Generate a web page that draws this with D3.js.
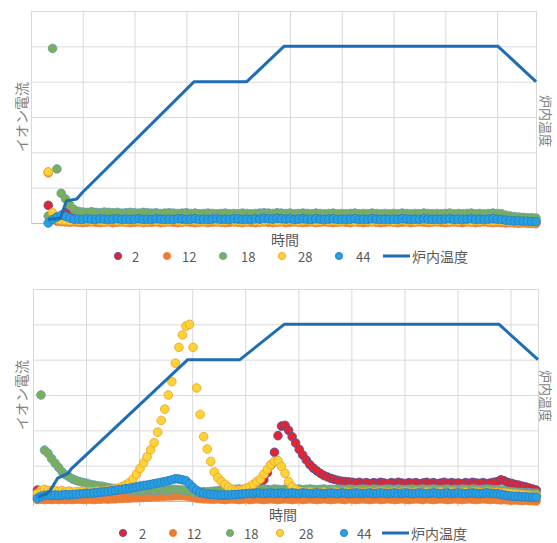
<!DOCTYPE html>
<html>
<head>
<meta charset="utf-8">
<script src="https://cdn.jsdelivr.net/npm/d3@7"></script>
<style>
    html, body { margin: 0; padding: 0; background: #fff; }
    svg { display: block; font-family: 'Noto Sans CJK JP', 'Noto Sans', sans-serif; }
</style>
</head>
<body>
<svg id="chart" width="557" height="543"></svg>
<script>
const seriesNames = ['2', '12', '18', '28', '44']
const temperatureName = '炉内温度'
const xTitle = '時間'
const yTitle = 'イオン電流'

// upper run: one sample every 5 min from minute 20
const topSampleStart = 20
const topSampleStep = 5
const topTimeMax = 585
const topTempTimes = [20, 34, 41, 53, 59, 189, 250, 293, 541, 585]
const topTempValues = [20, 28, 125, 136, 170, 800, 800, 1000, 1000, 800]

const topIon2 = [
    0.50, 0.14, 0.12, 0.20, 0.30, 0.24, 0.17, 0.12, 0.08, 0.07,
    0.08, 0.07, 0.06, 0.07, 0.08, 0.07, 0.06, 0.07, 0.08, 0.07,
    0.07, 0.08, 0.06, 0.07, 0.07, 0.08, 0.07, 0.06, 0.07, 0.08,
    0.07, 0.06, 0.07, 0.08, 0.07, 0.07, 0.06, 0.07, 0.08, 0.07,
    0.08, 0.07, 0.06, 0.07, 0.08, 0.07, 0.07, 0.06, 0.07, 0.08,
    0.07, 0.08, 0.07, 0.06, 0.07, 0.08, 0.07, 0.06, 0.07, 0.07,
    0.08, 0.07, 0.06, 0.07, 0.07, 0.08, 0.07, 0.06, 0.07, 0.08,
    0.07, 0.06, 0.07, 0.08, 0.07, 0.06, 0.07, 0.07, 0.08, 0.07,
    0.06, 0.07, 0.08, 0.07, 0.07, 0.06, 0.07, 0.08, 0.07, 0.06,
    0.07, 0.08, 0.07, 0.06, 0.07, 0.07, 0.08, 0.07, 0.06, 0.07,
    0.08, 0.07, 0.07, 0.06, 0.07, 0.07, 0.06, 0.05, 0.05, 0.05,
    0.04, 0.04, 0.04, 0.03,
]
const topIon12 = [
    1.42, 0.10, 0.05, 0.04, 0.03, 0.02, 0.03, 0.02, 0.01, 0.02,
    0.03, 0.02, 0.01, 0.02, 0.03, 0.01, 0.02, 0.03, 0.02, 0.01,
    0.02, 0.03, 0.01, 0.02, 0.02, 0.03, 0.01, 0.02, 0.03, 0.02,
    0.01, 0.02, 0.03, 0.02, 0.01, 0.02, 0.03, 0.01, 0.02, 0.03,
    0.02, 0.01, 0.02, 0.03, 0.02, 0.01, 0.03, 0.02, 0.01, 0.02,
    0.03, 0.02, 0.01, 0.02, 0.03, 0.01, 0.02, 0.03, 0.02, 0.01,
    0.02, 0.03, 0.01, 0.02, 0.03, 0.02, 0.01, 0.02, 0.03, 0.02,
    0.01, 0.03, 0.02, 0.01, 0.02, 0.03, 0.02, 0.01, 0.02, 0.03,
    0.02, 0.01, 0.02, 0.03, 0.01, 0.02, 0.03, 0.02, 0.01, 0.02,
    0.03, 0.02, 0.01, 0.02, 0.03, 0.02, 0.01, 0.03, 0.02, 0.01,
    0.02, 0.03, 0.02, 0.01, 0.02, 0.01, 0.00, 0.01, 0.00, -0.01,
    0.00, -0.01, -0.01, -0.02,
]
const topIon18 = [
    0.20, 4.94, 1.53, 0.84, 0.68, 0.50, 0.38, 0.33, 0.31, 0.30,
    0.32, 0.30, 0.29, 0.31, 0.30, 0.29, 0.30, 0.28, 0.29, 0.30,
    0.29, 0.28, 0.30, 0.29, 0.28, 0.29, 0.27, 0.28, 0.29, 0.28,
    0.27, 0.28, 0.29, 0.27, 0.28, 0.26, 0.27, 0.28, 0.27, 0.26,
    0.27, 0.28, 0.26, 0.27, 0.26, 0.28, 0.27, 0.26, 0.27, 0.28,
    0.29, 0.28, 0.27, 0.29, 0.28, 0.27, 0.28, 0.26, 0.27, 0.28,
    0.27, 0.26, 0.28, 0.27, 0.26, 0.27, 0.28, 0.26, 0.27, 0.26,
    0.27, 0.28, 0.26, 0.27, 0.26, 0.28, 0.27, 0.26, 0.27, 0.26,
    0.27, 0.26, 0.28, 0.27, 0.26, 0.27, 0.26, 0.28, 0.27, 0.26,
    0.27, 0.26, 0.27, 0.28, 0.26, 0.27, 0.26, 0.27, 0.28, 0.26,
    0.27, 0.26, 0.27, 0.28, 0.27, 0.26, 0.22, 0.20, 0.18, 0.17,
    0.16, 0.15, 0.15, 0.14,
]
const topIon28 = [
    1.45, 0.29, 0.10, 0.08, 0.07, 0.06, 0.07, 0.06, 0.06, 0.07,
    0.06, 0.07, 0.06, 0.05, 0.06, 0.07, 0.06, 0.06, 0.05, 0.06,
    0.07, 0.06, 0.05, 0.06, 0.07, 0.06, 0.06, 0.05, 0.06, 0.07,
    0.06, 0.05, 0.06, 0.07, 0.06, 0.05, 0.06, 0.06, 0.07, 0.06,
    0.05, 0.06, 0.07, 0.06, 0.06, 0.05, 0.06, 0.07, 0.06, 0.05,
    0.06, 0.07, 0.06, 0.05, 0.06, 0.06, 0.07, 0.06, 0.05, 0.06,
    0.07, 0.06, 0.05, 0.06, 0.07, 0.06, 0.06, 0.05, 0.06, 0.07,
    0.06, 0.05, 0.06, 0.07, 0.06, 0.05, 0.06, 0.06, 0.07, 0.06,
    0.05, 0.06, 0.07, 0.06, 0.06, 0.05, 0.06, 0.07, 0.06, 0.05,
    0.06, 0.07, 0.06, 0.05, 0.06, 0.06, 0.07, 0.06, 0.05, 0.06,
    0.06, 0.07, 0.06, 0.05, 0.06, 0.05, 0.05, 0.04, 0.04, 0.03,
    0.03, 0.03, 0.02, 0.02,
]
const topIon44 = [
    0.00, 0.10, 0.17, 0.22, 0.19, 0.14, 0.11, 0.11, 0.10, 0.12,
    0.11, 0.10, 0.12, 0.11, 0.10, 0.11, 0.12, 0.10, 0.11, 0.10,
    0.11, 0.12, 0.10, 0.11, 0.10, 0.12, 0.11, 0.10, 0.11, 0.10,
    0.12, 0.11, 0.10, 0.11, 0.12, 0.10, 0.11, 0.10, 0.11, 0.12,
    0.10, 0.11, 0.10, 0.12, 0.11, 0.10, 0.11, 0.10, 0.12, 0.11,
    0.13, 0.12, 0.11, 0.13, 0.12, 0.11, 0.12, 0.10, 0.11, 0.12,
    0.11, 0.10, 0.12, 0.11, 0.10, 0.11, 0.12, 0.10, 0.11, 0.10,
    0.11, 0.12, 0.10, 0.11, 0.10, 0.12, 0.11, 0.10, 0.11, 0.10,
    0.11, 0.10, 0.12, 0.11, 0.10, 0.11, 0.10, 0.12, 0.11, 0.10,
    0.11, 0.10, 0.11, 0.12, 0.10, 0.11, 0.10, 0.11, 0.12, 0.10,
    0.11, 0.10, 0.11, 0.12, 0.11, 0.10, 0.08, 0.07, 0.06, 0.06,
    0.05, 0.05, 0.04, 0.04,
]

// lower run: one sample every 4 min from minute 5
const bottomSampleStart = 5
const bottomSampleStep = 4
const bottomTimeMax = 571
const bottomTempTimes = [6, 11, 15, 19, 28, 40, 43, 175, 234, 284, 527, 571]
const bottomTempValues = [22, 34, 39, 56, 130, 158, 180, 800, 800, 1000, 1000, 800]

const bottomIon2 = [
    0.31, 0.20, 0.19, 0.20, 0.21, 0.20, 0.19, 0.20, 0.21, 0.20,
    0.20, 0.21, 0.20, 0.19, 0.20, 0.21, 0.20, 0.21, 0.22, 0.21,
    0.22, 0.21, 0.22, 0.23, 0.22, 0.23, 0.22, 0.23, 0.24, 0.23,
    0.24, 0.23, 0.24, 0.25, 0.24, 0.25, 0.24, 0.25, 0.26, 0.25,
    0.26, 0.25, 0.26, 0.25, 0.24, 0.25, 0.24, 0.25, 0.24, 0.25,
    0.24, 0.25, 0.24, 0.25, 0.26, 0.25, 0.26, 0.28, 0.30, 0.31,
    0.33, 0.35, 0.38, 0.45, 0.60, 0.80, 1.02, 1.38, 1.85, 2.12,
    2.14, 2.00, 1.82, 1.64, 1.46, 1.30, 1.16, 1.03, 0.93, 0.85,
    0.78, 0.72, 0.68, 0.64, 0.61, 0.58, 0.56, 0.55, 0.54, 0.53,
    0.51, 0.53, 0.50, 0.52, 0.49, 0.52, 0.50, 0.53, 0.51, 0.49,
    0.52, 0.50, 0.53, 0.51, 0.49, 0.52, 0.50, 0.52, 0.49, 0.51,
    0.53, 0.50, 0.52, 0.49, 0.51, 0.53, 0.50, 0.52, 0.50, 0.51,
    0.49, 0.52, 0.50, 0.53, 0.51, 0.50, 0.52, 0.49, 0.51, 0.53,
    0.55, 0.60, 0.57, 0.52, 0.50, 0.47, 0.45, 0.42, 0.40, 0.37,
    0.34, 0.31,
]
const bottomIon12 = [
    0.04, 0.05, 0.04, 0.05, 0.04, 0.05, 0.04, 0.05, 0.04, 0.05,
    0.04, 0.05, 0.05, 0.04, 0.05, 0.05, 0.04, 0.05, 0.05, 0.06,
    0.05, 0.06, 0.06, 0.07, 0.07, 0.08, 0.08, 0.09, 0.09, 0.10,
    0.10, 0.11, 0.11, 0.12, 0.12, 0.13, 0.13, 0.14, 0.14, 0.15,
    0.15, 0.15, 0.14, 0.12, 0.10, 0.08, 0.07, 0.06, 0.06, 0.05,
    0.05, 0.06, 0.05, 0.04, 0.05, 0.06, 0.05, 0.04, 0.05, 0.06,
    0.04, 0.05, 0.06, 0.05, 0.04, 0.05, 0.06, 0.05, 0.04, 0.05,
    0.06, 0.05, 0.04, 0.05, 0.06, 0.04, 0.05, 0.06, 0.05, 0.04,
    0.05, 0.06, 0.05, 0.04, 0.05, 0.06, 0.05, 0.04, 0.06, 0.05,
    0.04, 0.05, 0.06, 0.05, 0.04, 0.05, 0.06, 0.04, 0.05, 0.06,
    0.05, 0.04, 0.05, 0.06, 0.05, 0.04, 0.05, 0.06, 0.05, 0.04,
    0.06, 0.05, 0.04, 0.05, 0.06, 0.05, 0.04, 0.05, 0.06, 0.05,
    0.04, 0.05, 0.06, 0.05, 0.04, 0.05, 0.06, 0.05, 0.04, 0.05,
    0.04, 0.03, 0.04, 0.03, 0.02, 0.03, 0.02, 0.01, 0.02, 0.01,
    0.01, 0.00,
]
const bottomIon18 = [
    0.15, 3.00, 1.44, 1.35, 1.20, 1.07, 0.95, 0.82, 0.74, 0.68,
    0.62, 0.58, 0.55, 0.52, 0.50, 0.47, 0.45, 0.43, 0.42, 0.40,
    0.38, 0.36, 0.35, 0.34, 0.33, 0.32, 0.31, 0.32, 0.30, 0.31,
    0.30, 0.32, 0.31, 0.30, 0.31, 0.32, 0.30, 0.31, 0.32, 0.33,
    0.32, 0.31, 0.30, 0.28, 0.26, 0.25, 0.24, 0.25, 0.26, 0.27,
    0.28, 0.29, 0.30, 0.31, 0.32, 0.33, 0.33, 0.34, 0.33, 0.34,
    0.33, 0.34, 0.32, 0.33, 0.34, 0.33, 0.32, 0.34, 0.33, 0.32,
    0.34, 0.33, 0.32, 0.33, 0.34, 0.32, 0.33, 0.34, 0.33, 0.32,
    0.33, 0.34, 0.32, 0.33, 0.32, 0.34, 0.33, 0.32, 0.34, 0.33,
    0.32, 0.33, 0.34, 0.33, 0.32, 0.34, 0.33, 0.32, 0.33, 0.34,
    0.33, 0.32, 0.34, 0.33, 0.32, 0.33, 0.34, 0.32, 0.33, 0.34,
    0.32, 0.33, 0.34, 0.33, 0.32, 0.33, 0.34, 0.32, 0.33, 0.32,
    0.34, 0.33, 0.32, 0.34, 0.33, 0.32, 0.33, 0.34, 0.33, 0.32,
    0.32, 0.31, 0.29, 0.27, 0.26, 0.25, 0.24, 0.24, 0.23, 0.23,
    0.22, 0.22,
]
const bottomIon28 = [
    0.22, 0.30, 0.33, 0.30, 0.28, 0.30, 0.27, 0.29, 0.26, 0.28,
    0.25, 0.27, 0.26, 0.28, 0.25, 0.27, 0.26, 0.28, 0.27, 0.29,
    0.30, 0.32, 0.34, 0.37, 0.41, 0.46, 0.52, 0.62, 0.76, 0.92,
    1.08, 1.25, 1.45, 1.65, 1.95, 2.28, 2.60, 3.00, 3.38, 3.90,
    4.35, 4.70, 4.95, 5.00, 4.35, 3.20, 2.45, 1.82, 1.47, 1.12,
    0.82, 0.66, 0.55, 0.47, 0.39, 0.33, 0.30, 0.31, 0.32, 0.36,
    0.40, 0.47, 0.55, 0.62, 0.76, 0.90, 1.03, 1.12, 1.14, 0.98,
    0.78, 0.55, 0.40, 0.32, 0.28, 0.26, 0.25, 0.26, 0.25, 0.24,
    0.25, 0.26, 0.24, 0.25, 0.26, 0.25, 0.24, 0.26, 0.25, 0.24,
    0.26, 0.25, 0.24, 0.25, 0.26, 0.24, 0.25, 0.26, 0.25, 0.24,
    0.25, 0.26, 0.24, 0.25, 0.26, 0.25, 0.24, 0.26, 0.25, 0.24,
    0.26, 0.25, 0.24, 0.25, 0.26, 0.24, 0.25, 0.26, 0.25, 0.24,
    0.25, 0.26, 0.24, 0.25, 0.26, 0.25, 0.24, 0.26, 0.25, 0.24,
    0.25, 0.24, 0.23, 0.22, 0.21, 0.20, 0.19, 0.18, 0.17, 0.16,
    0.15, 0.15,
]
const bottomIon44 = [
    0.08, 0.13, 0.16, 0.17, 0.16, 0.17, 0.16, 0.17, 0.18, 0.17,
    0.18, 0.19, 0.20, 0.21, 0.22, 0.22, 0.23, 0.24, 0.25, 0.26,
    0.27, 0.29, 0.30, 0.32, 0.33, 0.35, 0.36, 0.38, 0.40, 0.42,
    0.44, 0.45, 0.47, 0.49, 0.51, 0.53, 0.55, 0.57, 0.60, 0.63,
    0.62, 0.60, 0.57, 0.48, 0.38, 0.30, 0.25, 0.22, 0.20, 0.19,
    0.18, 0.17, 0.17, 0.17, 0.17, 0.18, 0.18, 0.19, 0.20, 0.21,
    0.22, 0.21, 0.23, 0.22, 0.21, 0.22, 0.23, 0.21, 0.22, 0.23,
    0.21, 0.22, 0.23, 0.22, 0.21, 0.23, 0.22, 0.21, 0.22, 0.23,
    0.22, 0.21, 0.22, 0.23, 0.22, 0.21, 0.23, 0.22, 0.21, 0.22,
    0.23, 0.22, 0.21, 0.22, 0.23, 0.21, 0.22, 0.23, 0.22, 0.21,
    0.22, 0.23, 0.21, 0.22, 0.23, 0.22, 0.21, 0.22, 0.23, 0.22,
    0.21, 0.22, 0.23, 0.22, 0.21, 0.22, 0.23, 0.21, 0.22, 0.23,
    0.22, 0.21, 0.22, 0.23, 0.22, 0.21, 0.22, 0.23, 0.22, 0.21,
    0.21, 0.19, 0.17, 0.15, 0.14, 0.13, 0.13, 0.12, 0.12, 0.11,
    0.11, 0.11,
]

const gridStepMinutes = 60
const ionMax = 6
const temperatureMax = 1200

const markerStyles = {
    '2': { fill: '#e6242c', stroke: '#55509c' },
    '12': { fill: '#ee7a30', stroke: '#e9823f' },
    '18': { fill: '#79b054', stroke: '#6b9db3' },
    '28': { fill: '#fbd535', stroke: '#f2a22a' },
    '44': { fill: '#26a1e3', stroke: '#2a7cc3' },
}
const lineColor = '#1e6db5'

class RunChart {

    #scales

    constructor({ svg, frame, timeMax, legendY, xTitleY, legendLayout, sideTitleY }) {
        this.svg = svg
        this.frame = frame
        this.timeMax = timeMax
        this.legendY = legendY
        this.xTitleY = xTitleY
        this.legendLayout = legendLayout
        this.sideTitleY = sideTitleY
        this.bounds = svg.append('g')
        this.#scales = {
            x: d3.scaleLinear().domain([0, timeMax]).range([frame.left, frame.right]),
            ion: d3.scaleLinear().domain([0, ionMax]).range([frame.bottom, frame.top]),
            temp: d3.scaleLinear().domain([0, temperatureMax]).range([frame.bottom, frame.top]),
        }
    }

    drawGrid(withTicks) {
        const f = this.frame
        const { x, ion } = this.#scales
        const grid = this.bounds.append('g')

        grid.append('g')
            .attr('transform', `translate(0,${f.bottom})`)
            .call(d3.axisBottom(x)
                .tickValues(d3.range(0, this.timeMax, gridStepMinutes))
                .tickSize(-(f.bottom - f.top))
                .tickFormat(''))
            .call(g => g.select('.domain').remove())
            .call(g => g.selectAll('line').attr('stroke', '#d9d9d9'))

        grid.append('g')
            .attr('transform', `translate(${f.left},0)`)
            .call(d3.axisLeft(ion)
                .tickValues(d3.range(0, ionMax + 1))
                .tickSize(-(f.right - f.left))
                .tickFormat(''))
            .call(g => g.select('.domain').remove())
            .call(g => g.selectAll('line').attr('stroke', '#d9d9d9'))

        grid.append('line')
            .attr('x1', Math.round(f.right) + 0.5)
            .attr('x2', Math.round(f.right) + 0.5)
            .attr('y1', f.top)
            .attr('y2', f.bottom)
            .attr('stroke', '#d9d9d9')

        const axis = grid.append('g')
            .attr('transform', `translate(0,${f.bottom})`)
            .call(d3.axisBottom(x)
                .tickValues(withTicks ? d3.range(0, this.timeMax, gridStepMinutes) : [])
                .tickSizeInner(5)
                .tickSizeOuter(0)
                .tickFormat(''))
        axis.select('.domain').attr('stroke', '#bfbfbf')
        axis.selectAll('line').attr('stroke', '#bfbfbf')
    }

    drawIons(seriesList, sampleStart, sampleStep) {
        const { x, ion } = this.#scales
        seriesList.forEach(series => {
            const style = markerStyles[series.name]
            const points = series.values.map((v, i) => ({ t: sampleStart + i * sampleStep, v }))
            this.bounds.append('g')
                .selectAll('circle')
                .data(points)
                .join('circle')
                .attr('cx', d => x(d.t))
                .attr('cy', d => ion(d.v))
                .attr('r', 4.3)
                .attr('fill', style.fill)
                .attr('stroke', style.stroke)
                .attr('stroke-width', 0.9)
        })
    }

    drawTemperature(times, values) {
        const { x, temp } = this.#scales
        const lineGenerator = d3.line()
            .x(d => x(d[0]))
            .y(d => temp(d[1]))
        this.bounds.append('path')
            .attr('d', lineGenerator(d3.zip(times, values)))
            .attr('fill', 'none')
            .attr('stroke', lineColor)
            .attr('stroke-width', 3)
            .attr('stroke-linejoin', 'round')
    }

    drawTitles() {
        const f = this.frame
        const mid = (f.top + f.bottom) / 2
        this.bounds.append('text')
            .attr('transform', `translate(27,${mid}) rotate(-90)`)
            .attr('text-anchor', 'middle')
            .attr('font-size', 14)
            .attr('fill', '#7f7f7f')
            .text(yTitle)
        this.bounds.append('text')
            .attr('transform', `translate(541,${this.sideTitleY}) rotate(90)`)
            .attr('text-anchor', 'middle')
            .attr('font-size', 13)
            .attr('fill', '#7f7f7f')
            .text(temperatureName)
        this.bounds.append('text')
            .attr('x', this.legendLayout.xTitle)
            .attr('y', this.xTitleY)
            .attr('text-anchor', 'middle')
            .attr('dominant-baseline', 'central')
            .attr('font-size', 14)
            .attr('fill', '#595959')
            .text(xTitle)
    }

    drawLegend() {
        const lay = this.legendLayout
        const legend = this.bounds.append('g')
        seriesNames.forEach((name, i) => {
            const style = markerStyles[name]
            legend.append('circle')
                .attr('cx', lay.markers[i])
                .attr('cy', this.legendY)
                .attr('r', 3.6)
                .attr('fill', style.fill)
                .attr('stroke', style.stroke)
                .attr('stroke-width', 0.9)
            legend.append('text')
                .attr('x', lay.labels[i])
                .attr('y', this.legendY)
                .attr('dominant-baseline', 'central')
                .attr('font-size', 13)
                .attr('fill', '#595959')
                .text(name)
        })
        legend.append('line')
            .attr('x1', lay.line[0])
            .attr('x2', lay.line[1])
            .attr('y1', this.legendY)
            .attr('y2', this.legendY)
            .attr('stroke', lineColor)
            .attr('stroke-width', 3)
        legend.append('text')
            .attr('x', lay.line[1] + 2)
            .attr('y', this.legendY)
            .attr('dominant-baseline', 'central')
            .attr('font-size', 14)
            .attr('fill', '#595959')
            .text(temperatureName)
    }
}

const svg = d3.select('#chart')

const topChart = new RunChart({
    svg,
    frame: { left: 31, right: 536, top: 11, bottom: 223 },
    timeMax: topTimeMax,
    legendY: 256,
    xTitleY: 239,
    sideTitleY: 121,
    legendLayout: {
        xTitle: 285,
        markers: [118, 167, 223, 282, 339],
        labels: [132, 182, 241, 298, 356],
        line: [383, 410],
    },
})
topChart.drawGrid(false)
topChart.drawIons([
    { name: '2', values: topIon2 },
    { name: '12', values: topIon12 },
    { name: '18', values: topIon18 },
    { name: '28', values: topIon28 },
    { name: '44', values: topIon44 },
], topSampleStart, topSampleStep)
topChart.drawTemperature(topTempTimes, topTempValues)
topChart.drawTitles()
topChart.drawLegend()

const bottomChart = new RunChart({
    svg,
    frame: { left: 33, right: 538, top: 289, bottom: 501 },
    timeMax: bottomTimeMax,
    legendY: 533,
    xTitleY: 514,
    sideTitleY: 396,
    legendLayout: {
        xTitle: 283,
        markers: [123, 173, 230, 280, 344],
        labels: [139, 187, 244, 299, 357],
        line: [382, 409],
    },
})
bottomChart.drawGrid(true)
bottomChart.drawIons([
    { name: '2', values: bottomIon2 },
    { name: '12', values: bottomIon12 },
    { name: '18', values: bottomIon18 },
    { name: '28', values: bottomIon28 },
    { name: '44', values: bottomIon44 },
], bottomSampleStart, bottomSampleStep)
bottomChart.drawTemperature(bottomTempTimes, bottomTempValues)
bottomChart.drawTitles()
bottomChart.drawLegend()
</script>
</body>
</html>
